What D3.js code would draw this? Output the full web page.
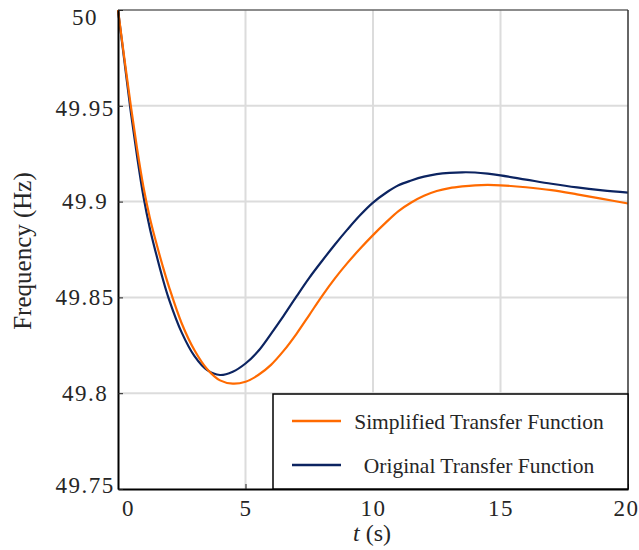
<!DOCTYPE html>
<html>
<head>
<meta charset="utf-8">
<script src="https://d3js.org/d3.v7.min.js"></script>
<style>
  body { margin: 0; background: #fff; }
  text { font-family: "Liberation Serif", "Times New Roman", serif; fill: #262626; }
</style>
</head>
<body>
<div id="chart"></div>
<script>
// Size of the figure
var width  = 639;
var height = 550;
var margin = { left: 118, right: 11, top: 10, bottom: 61 };
var serif = "'Liberation Serif', 'Times New Roman', serif";

// Time samples (s)
var timeS = [0, 0.25, 0.5, 0.75, 1, 1.25, 1.5, 1.75, 2, 2.5, 3, 3.5, 4, 4.5, 5,
             5.5, 6, 6.5, 7, 7.5, 8, 8.5, 9, 9.5, 10, 10.5, 11, 11.5, 12, 12.5,
             13, 13.5, 14, 14.5, 15, 16, 17, 18, 19, 20];

// Frequency of the simplified transfer function (Hz)
var simplifiedHz = [50.000, 49.9748, 49.9502, 49.9275, 49.9075, 49.8915, 49.8785,
                    49.8665, 49.8555, 49.8364, 49.8224, 49.8125, 49.8067, 49.805,
                    49.806, 49.8095, 49.8148, 49.8222, 49.831, 49.8408, 49.8507,
                    49.8598, 49.868, 49.8755, 49.8825, 49.889, 49.895, 49.8995,
                    49.903, 49.9055, 49.907, 49.9079, 49.9085, 49.9087, 49.9085,
                    49.9075, 49.906, 49.9038, 49.9014, 49.899];

// Frequency of the original transfer function (Hz)
var originalHz = [50.000, 49.9735, 49.947, 49.9235, 49.9025, 49.886, 49.8725,
                  49.860, 49.849, 49.8316, 49.8193, 49.812, 49.8095, 49.8112,
                  49.8155, 49.822, 49.831, 49.8405, 49.8505, 49.8602, 49.869,
                  49.8775, 49.8855, 49.893, 49.8995, 49.9045, 49.9085, 49.911,
                  49.913, 49.9143, 49.915, 49.9153, 49.9152, 49.9146, 49.9137,
                  49.9115, 49.9093, 49.9074, 49.9059, 49.9047];

var xTicks = [0, 5, 10, 15, 20];
var yTicks = [49.75, 49.8, 49.85, 49.9, 49.95, 50];

var series = [
    { name: "Simplified Transfer Function", values: simplifiedHz, color: "#ff6a00" },
    { name: "Original Transfer Function",   values: originalHz,   color: "#0c2461" }
];

var svg = d3.select("#chart").append("svg")
    .attr("width", width)
    .attr("height", height)
    .style("font-family", serif);

var x = d3.scaleLinear()
    .domain([0, 20])
    .range([margin.left, width - margin.right]);

var y = d3.scaleLinear()
    .domain([49.75, 50])
    .range([height - margin.bottom, margin.top]);

// Grid lines
svg.append("g")
    .selectAll("line")
    .data(xTicks.slice(1, -1))
    .enter()
    .append("line")
    .attr("x1", d => x(d)).attr("x2", d => x(d))
    .attr("y1", y(49.75)).attr("y2", y(50))
    .attr("stroke", "#dcdcdc")
    .attr("stroke-width", 2);

svg.append("g")
    .selectAll("line")
    .data(yTicks.slice(1, -1))
    .enter()
    .append("line")
    .attr("x1", x(0)).attr("x2", x(20))
    .attr("y1", d => y(d)).attr("y2", d => y(d))
    .attr("stroke", "#dcdcdc")
    .attr("stroke-width", 2);

// Curves
var line = d3.line()
    .x((d, i) => x(timeS[i]))
    .y(d => y(d))
    .curve(d3.curveCatmullRom.alpha(0.5));

svg.append("g")
    .selectAll("path")
    .data(series.slice().reverse())
    .enter()
    .append("path")
    .attr("d", d => line(d.values))
    .attr("fill", "none")
    .attr("stroke", d => d.color)
    .attr("stroke-width", 2.2);

// Box: top in gray, right darker
svg.append("line")
    .attr("x1", x(0)).attr("x2", x(20))
    .attr("y1", y(50)).attr("y2", y(50))
    .attr("stroke", "#666").attr("stroke-width", 1.5);
svg.append("line")
    .attr("x1", x(20)).attr("x2", x(20))
    .attr("y1", y(50)).attr("y2", y(49.75))
    .attr("stroke", "#333").attr("stroke-width", 1.5);

// Axes with inward ticks
var xAxis = svg.append("g")
    .attr("transform", "translate(0," + y(49.75) + ")")
    .call(d3.axisBottom(x).tickValues(xTicks).tickSizeInner(-5).tickSizeOuter(0));
xAxis.selectAll("text")
    .attr("y", 11)
    .attr("dx", d => d === 0 ? 10 : (d === 20 ? -2 : 0))
    .style("font-family", serif)
    .style("font-size", "23px")
    .style("letter-spacing", "1.5px");

var yAxis = svg.append("g")
    .attr("transform", "translate(" + x(0) + ",0)")
    .call(d3.axisLeft(y).tickValues(yTicks).tickSizeInner(-5).tickSizeOuter(0)
          .tickFormat(d3.format("")));
// labels are centred in a column left of the axis, end ones pulled inwards
yAxis.selectAll("text")
    .attr("x", -33)
    .attr("y", d => d === 50 ? 7.5 : (d === 49.75 ? -4 : (d === 49.95 ? 2 : 0)))
    .attr("text-anchor", "middle")
    .style("font-family", serif)
    .style("font-size", "23px")
    .style("letter-spacing", "1.5px");

svg.selectAll(".domain").attr("stroke", "#000").attr("stroke-width", 2);
svg.selectAll(".tick line").attr("stroke", "#222");
xAxis.attr("font-family", null).attr("font-size", null);
yAxis.attr("font-family", null).attr("font-size", null);

// Axis titles
var xTitle = svg.append("text")
    .attr("x", 372)
    .attr("y", 541)
    .attr("text-anchor", "middle")
    .style("font-size", "24px");
xTitle.append("tspan").style("font-style", "italic").text("t");
xTitle.append("tspan").text(" (s)");

svg.append("text")
    .attr("transform", "translate(31,251) rotate(-90)")
    .attr("text-anchor", "middle")
    .style("font-size", "25px")
    .text("Frequency (Hz)");

// Legend
var legend = svg.append("g");
legend.append("rect")
    .attr("x", 273).attr("y", 394)
    .attr("width", 355).attr("height", 95)
    .attr("fill", "#fff")
    .attr("stroke", "#000")
    .attr("stroke-width", 1.5);

var item = legend.selectAll("g")
    .data(series)
    .enter()
    .append("g")
    .attr("transform", (d, i) => "translate(0," + (421 + i * 44) + ")");

item.append("line")
    .attr("x1", 292).attr("x2", 341)
    .attr("stroke", d => d.color)
    .attr("stroke-width", 2.5);

item.append("text")
    .attr("x", 479)
    .attr("y", 8)
    .attr("text-anchor", "middle")
    .style("font-size", "21.5px")
    .text(d => d.name);
</script>
</body>
</html>
